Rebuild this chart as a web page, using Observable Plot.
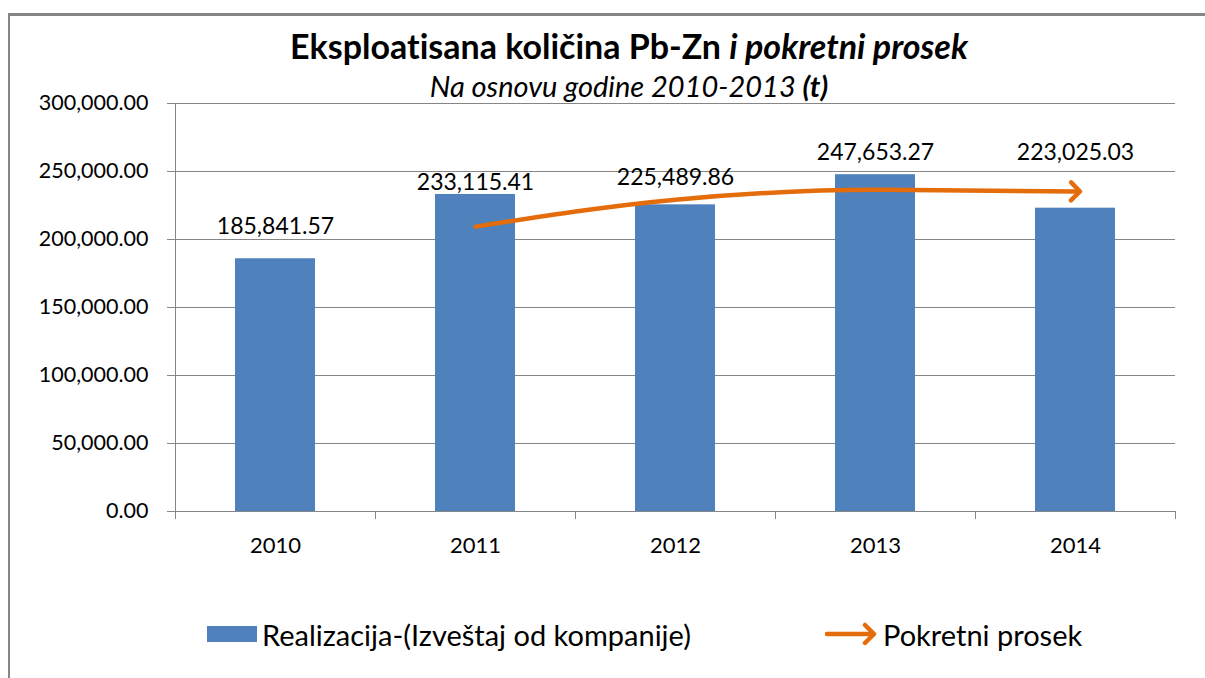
<!DOCTYPE html>
<html>
<head>
<meta charset="utf-8">
<script src="https://cdn.jsdelivr.net/npm/d3@7"></script>
<script src="https://cdn.jsdelivr.net/npm/@observablehq/plot@0.6"></script>
<style>
  html, body { margin: 0; padding: 0; background: #fff; }
  #wrap { position: relative; width: 1205px; height: 678px; overflow: hidden; font-family: Lato, "Open Sans", sans-serif; color: #000; font-variant-ligatures: none; }
  #frame { position: absolute; left: 8px; top: 13px; width: 1300px; height: 800px; border-left: 2px solid #868686; border-top: 3px solid #868686; }
  #chart { position: absolute; left: 0; top: 0; }
  #title { position: absolute; left: 0; width: 1258px; top: 26px; text-align: center; font-size: 34px; font-weight: bold; white-space: nowrap; line-height: 40px; }
  #subtitle { position: absolute; left: 0; width: 1258px; top: 68px; text-align: center; font-size: 29px; font-style: italic; white-space: nowrap; line-height: 36px; }
  .leg { position: absolute; top: 619px; font-size: 29px; white-space: nowrap; display: flex; align-items: center; height: 30px; }
</style>
</head>
<body>
<div id="wrap">
  <div id="frame"></div>
  <div id="chart"></div>
  <div id="title">Eksploatisana količina Pb-Zn <i>i pokretni prosek</i></div>
  <div id="subtitle">Na osnovu godine 2010-2013 <b>(t)</b></div>
  <div class="leg" id="leg1" style="left:207px;"><span style="display:inline-block;width:50px;height:16px;background:#4F81BD;margin-right:5px;"></span>Realizacija-(Izveštaj od kompanije)</div>
  <div class="leg" id="leg2" style="left:825px;"><svg width="52" height="24" style="margin-right:6px;"><path d="M2,12 H48 M40,3 L49,12 L40,21" fill="none" stroke="#E46C0A" stroke-width="4.5" stroke-linecap="round" stroke-linejoin="round"/></svg>Pokretni prosek</div>
</div>
<script>
// Data
const years = [2010, 2011, 2012, 2013, 2014];
const values = [185841.57, 233115.41, 225489.86, 247653.27, 223025.03];
const maYears = [2011, 2012, 2013, 2014];
const maValues = [209480, 229300, 236570, 235340];
const yTicks = [0, 50000, 100000, 150000, 200000, 250000, 300000];
const categoryEdges = [2009.5, 2010.5, 2011.5, 2012.5, 2013.5, 2014.5];

const bars = years.map((y, i) => ({year: y, value: values[i]}));
const ma = maYears.map((y, i) => ({year: y, value: maValues[i]}));
const labelDy = [-32, -12, -27, -22, -56];
const fmt = d3.format(",.2f");

const grey = "#868686";
const chart = Plot.plot({
  width: 1205,
  height: 600,
  marginLeft: 175,
  marginRight: 30,
  marginTop: 103,
  marginBottom: 89,
  style: {background: "transparent", fontFamily: "Lato, 'Open Sans', sans-serif", color: "#000", fontVariantLigatures: "none"},
  x: {domain: [2009.5, 2014.5]},
  y: {domain: [0, 300000]},
  marks: [
    Plot.gridY(yTicks, {stroke: grey, strokeOpacity: 1, strokeWidth: 1}),
    Plot.ruleX([categoryEdges[0]], {y1: 0, y2: 300000, stroke: grey, strokeWidth: 1}),
    Plot.rectY(bars, {x1: d => d.year - 0.5, x2: d => d.year + 0.5, y: "value", fill: "#4F81BD", insetLeft: 60, insetRight: 60}),
    Plot.line(ma, {x: "year", y: "value", stroke: "#E46C0A", strokeWidth: 4.5, curve: "monotone-x", markerEnd: "arrow"}),
    ...bars.map((d, i) => Plot.text([d], {x: "year", y: "value", text: d => fmt(d.value), dy: labelDy[i], fontSize: 23, fill: "#000"})),
    Plot.axisY({ticks: yTicks, tickFormat: fmt, tickSize: 8, tickPadding: 19, stroke: grey, fontSize: 21.5, label: null, color: "#000"}),
    Plot.axisX({ticks: categoryEdges, tickSize: 8, tickFormat: () => "", stroke: grey, label: null}),
    Plot.axisX({ticks: years, tickSize: 0, tickPadding: 26, tickFormat: d => String(d), fontSize: 22, label: null})
  ]
});
document.getElementById("chart").appendChild(chart);
</script>
</body>
</html>
